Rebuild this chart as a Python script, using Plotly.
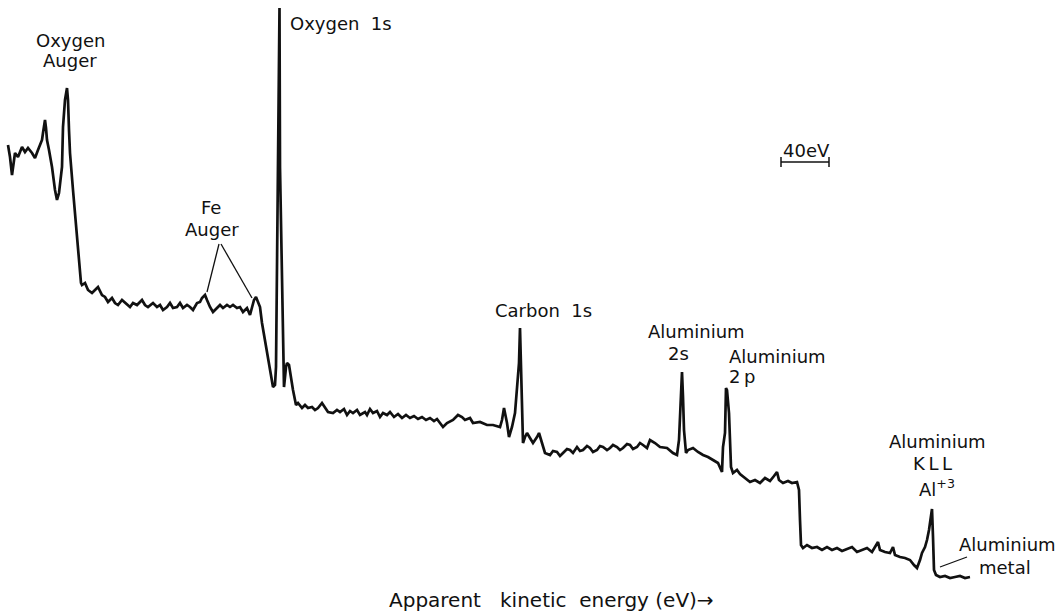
import plotly.graph_objects as go

# Analyzer channel (48 channels = 40 eV, see scale bar) and intensity (arb. units)
seg_a_x = [8, 10, 12, 15, 18, 22, 25, 28, 32, 35, 38, 42, 43, 45, 46, 47, 49, 52, 55, 57, 59, 62, 63, 65, 67, 68, 69, 70, 73, 76, 79, 81]
seg_a_y = [470, 458, 440, 462, 458, 468, 463, 467, 462, 457, 465, 475, 482, 495, 487, 475, 465, 448, 425, 415, 422, 448, 488, 515, 527, 515, 485, 462, 425, 390, 355, 332]

seg_b_x = [82, 85, 88, 92, 95, 98, 102, 105, 108, 112, 115, 118, 122, 125, 130, 133, 137, 142, 145, 148, 153, 157, 160, 163, 167, 170, 173, 177, 180, 183, 187, 190, 193, 197, 200, 202, 205, 207, 210, 213, 217, 220, 223, 227, 230, 233, 237, 240, 243, 247, 250, 252, 254, 256, 258, 260, 262, 265, 268, 271, 273, 275, 276, 277, 278, 279, 279.5, 280, 281, 282, 283, 284, 286, 287, 289, 291, 293, 296]
seg_b_y = [330, 332, 325, 322, 325, 328, 320, 318, 313, 317, 312, 310, 315, 312, 308, 312, 310, 315, 310, 308, 312, 308, 310, 305, 308, 312, 307, 308, 312, 307, 310, 308, 305, 312, 313, 317, 320, 315, 308, 303, 307, 310, 307, 310, 308, 310, 307, 308, 303, 307, 300, 308, 315, 318, 312, 308, 292, 275, 258, 238, 228, 230, 248, 348, 448, 582, 607, 448, 382, 348, 298, 228, 248, 252, 250, 235, 225, 210]

seg_c_x = [298, 302, 305, 308, 312, 315, 318, 322, 325, 328, 333, 337, 340, 344, 347, 350, 353, 357, 360, 365, 367, 370, 373, 377, 380, 383, 387, 390, 394, 398, 402, 406, 410, 414, 418, 422, 426, 430, 434, 437]
seg_c_y = [212, 207, 210, 207, 208, 205, 207, 212, 207, 203, 202, 205, 203, 206, 200, 204, 202, 205, 200, 203, 200, 206, 202, 204, 198, 202, 200, 203, 198, 201, 197, 200, 197, 199, 196, 198, 195, 197, 194, 196]

seg_d_x = [440, 443, 447, 453, 458, 462, 465, 470, 473, 480, 487, 493, 500, 502, 504, 507, 509, 512, 515, 517, 519, 520, 521, 522, 523, 525, 527, 530, 533, 537, 539, 542, 545, 550, 553, 557, 560, 563, 567, 570, 573, 577, 580, 583, 587, 590, 593, 597, 600, 603, 607, 610, 613, 617, 620, 623, 627, 630, 633, 637, 640, 643, 647, 650, 655, 660, 667, 673, 677, 679, 681, 682, 683, 684, 686, 688, 693, 698, 703, 708, 713, 718, 722, 723, 725, 726, 727, 729, 730, 731, 733, 737, 740]
seg_d_y = [192, 188, 192, 195, 200, 198, 195, 197, 192, 193, 190, 190, 188, 195, 207, 192, 178, 188, 202, 228, 252, 287, 252, 208, 172, 178, 182, 177, 172, 178, 182, 172, 162, 160, 164, 163, 159, 162, 166, 165, 162, 168, 164, 165, 169, 167, 163, 165, 169, 168, 165, 167, 170, 168, 165, 167, 171, 170, 166, 168, 172, 170, 167, 175, 172, 168, 167, 162, 160, 175, 218, 243, 218, 185, 162, 165, 167, 163, 160, 158, 155, 152, 143, 168, 182, 227, 225, 202, 175, 148, 142, 145, 141]

seg_e_x = [745, 750, 755, 760, 765, 770, 774, 777, 779, 783, 788, 792, 797, 799, 800, 801, 803, 807, 812, 817, 822, 827, 832, 837, 842, 847, 852, 857, 862, 867, 872, 876, 878, 880, 885, 890, 893, 895, 900, 905, 910, 914, 917, 920, 922, 925, 927, 929, 931, 932, 933, 934, 936, 940, 945, 950, 955, 960, 965, 970]
seg_e_y = [137, 133, 135, 132, 137, 134, 139, 143, 135, 132, 134, 132, 133, 125, 95, 70, 67, 70, 67, 68, 65, 68, 65, 67, 64, 66, 68, 63, 65, 67, 63, 70, 73, 65, 63, 62, 68, 60, 58, 57, 55, 50, 47, 55, 62, 68, 75, 85, 100, 106, 78, 45, 40, 38, 39, 37, 38, 39, 37, 38]

channel = seg_a_x + seg_b_x + seg_c_x + seg_d_x + seg_e_x
intensity = seg_a_y + seg_b_y + seg_c_y + seg_d_y + seg_e_y

scalebar_x = [781, 829]      # 40 eV
scalebar_y = [453, 453]
scalebar_label = "40eV"

FONT = "DejaVu Sans"
INK = "#111111"

fig = go.Figure()
fig.add_trace(go.Scatter(x=channel, y=intensity, mode="lines",
                         line=dict(color=INK, width=2.7), hoverinfo="skip"))
fig.add_trace(go.Scatter(x=scalebar_x, y=scalebar_y, mode="lines",
                         line=dict(color=INK, width=1.5), hoverinfo="skip"))
for xv in scalebar_x:
    fig.add_trace(go.Scatter(x=[xv, xv], y=[448, 458], mode="lines",
                             line=dict(color=INK, width=1.5), hoverinfo="skip"))

labels = [
    ("Oxygen", 70, 575, "center", 18),
    ("Auger", 70, 555, "center", 18),
    ("Oxygen\u00a0\u00a01s", 288, 592, "left", 18),
    ("Fe", 211, 408, "center", 18),
    ("Auger", 212, 386, "center", 18),
    ("Carbon\u00a0\u00a01s", 493, 305, "left", 18),
    ("Aluminium", 696, 284, "center", 18),
    ("2s", 678, 262, "center", 18),
    ("Aluminium", 727, 259, "left", 18),
    ("2\u2009p", 727, 239, "left", 18),
    ("Aluminium", 937, 174, "center", 18),
    ("K\u2009L\u2009L", 932, 152, "center", 18),
    ("Al<sup>+3</sup>", 937, 127, "center", 18),
    ("Aluminium", 1007, 71, "center", 18),
    ("metal", 1005, 48, "center", 18),
    (scalebar_label, 806, 465, "center", 18),
    ("Apparent\u00a0\u00a0\u00a0kinetic\u00a0\u00a0energy\u00a0(eV)\u2192", 551, 15, "center", 20),
]
for text, x, y, xa, sz in labels:
    fig.add_annotation(x=x, y=y, text=text, showarrow=False, xanchor=xa, yanchor="middle",
                       font=dict(family=FONT, size=sz, color=INK))

pointer_lines = [
    (219, 371, 207, 323),
    (221, 371, 252, 317),
    (940, 48, 967, 58),
]
for x0, y0, x1, y1 in pointer_lines:
    fig.add_shape(type="line", x0=x0, y0=y0, x1=x1, y1=y1, xref="x", yref="y",
                  line=dict(color=INK, width=1.3))

fig.update_layout(
    width=1059, height=615,
    margin=dict(l=0, r=0, t=0, b=0),
    paper_bgcolor="white", plot_bgcolor="white",
    showlegend=False,
    xaxis=dict(range=[0, 1059], visible=False, fixedrange=True),
    yaxis=dict(range=[0, 615], visible=False, fixedrange=True),
)
fig.write_html("out.html", config={"displayModeBar": False},
               post_script="document.body.style.margin='0';document.body.style.overflow='hidden';")
